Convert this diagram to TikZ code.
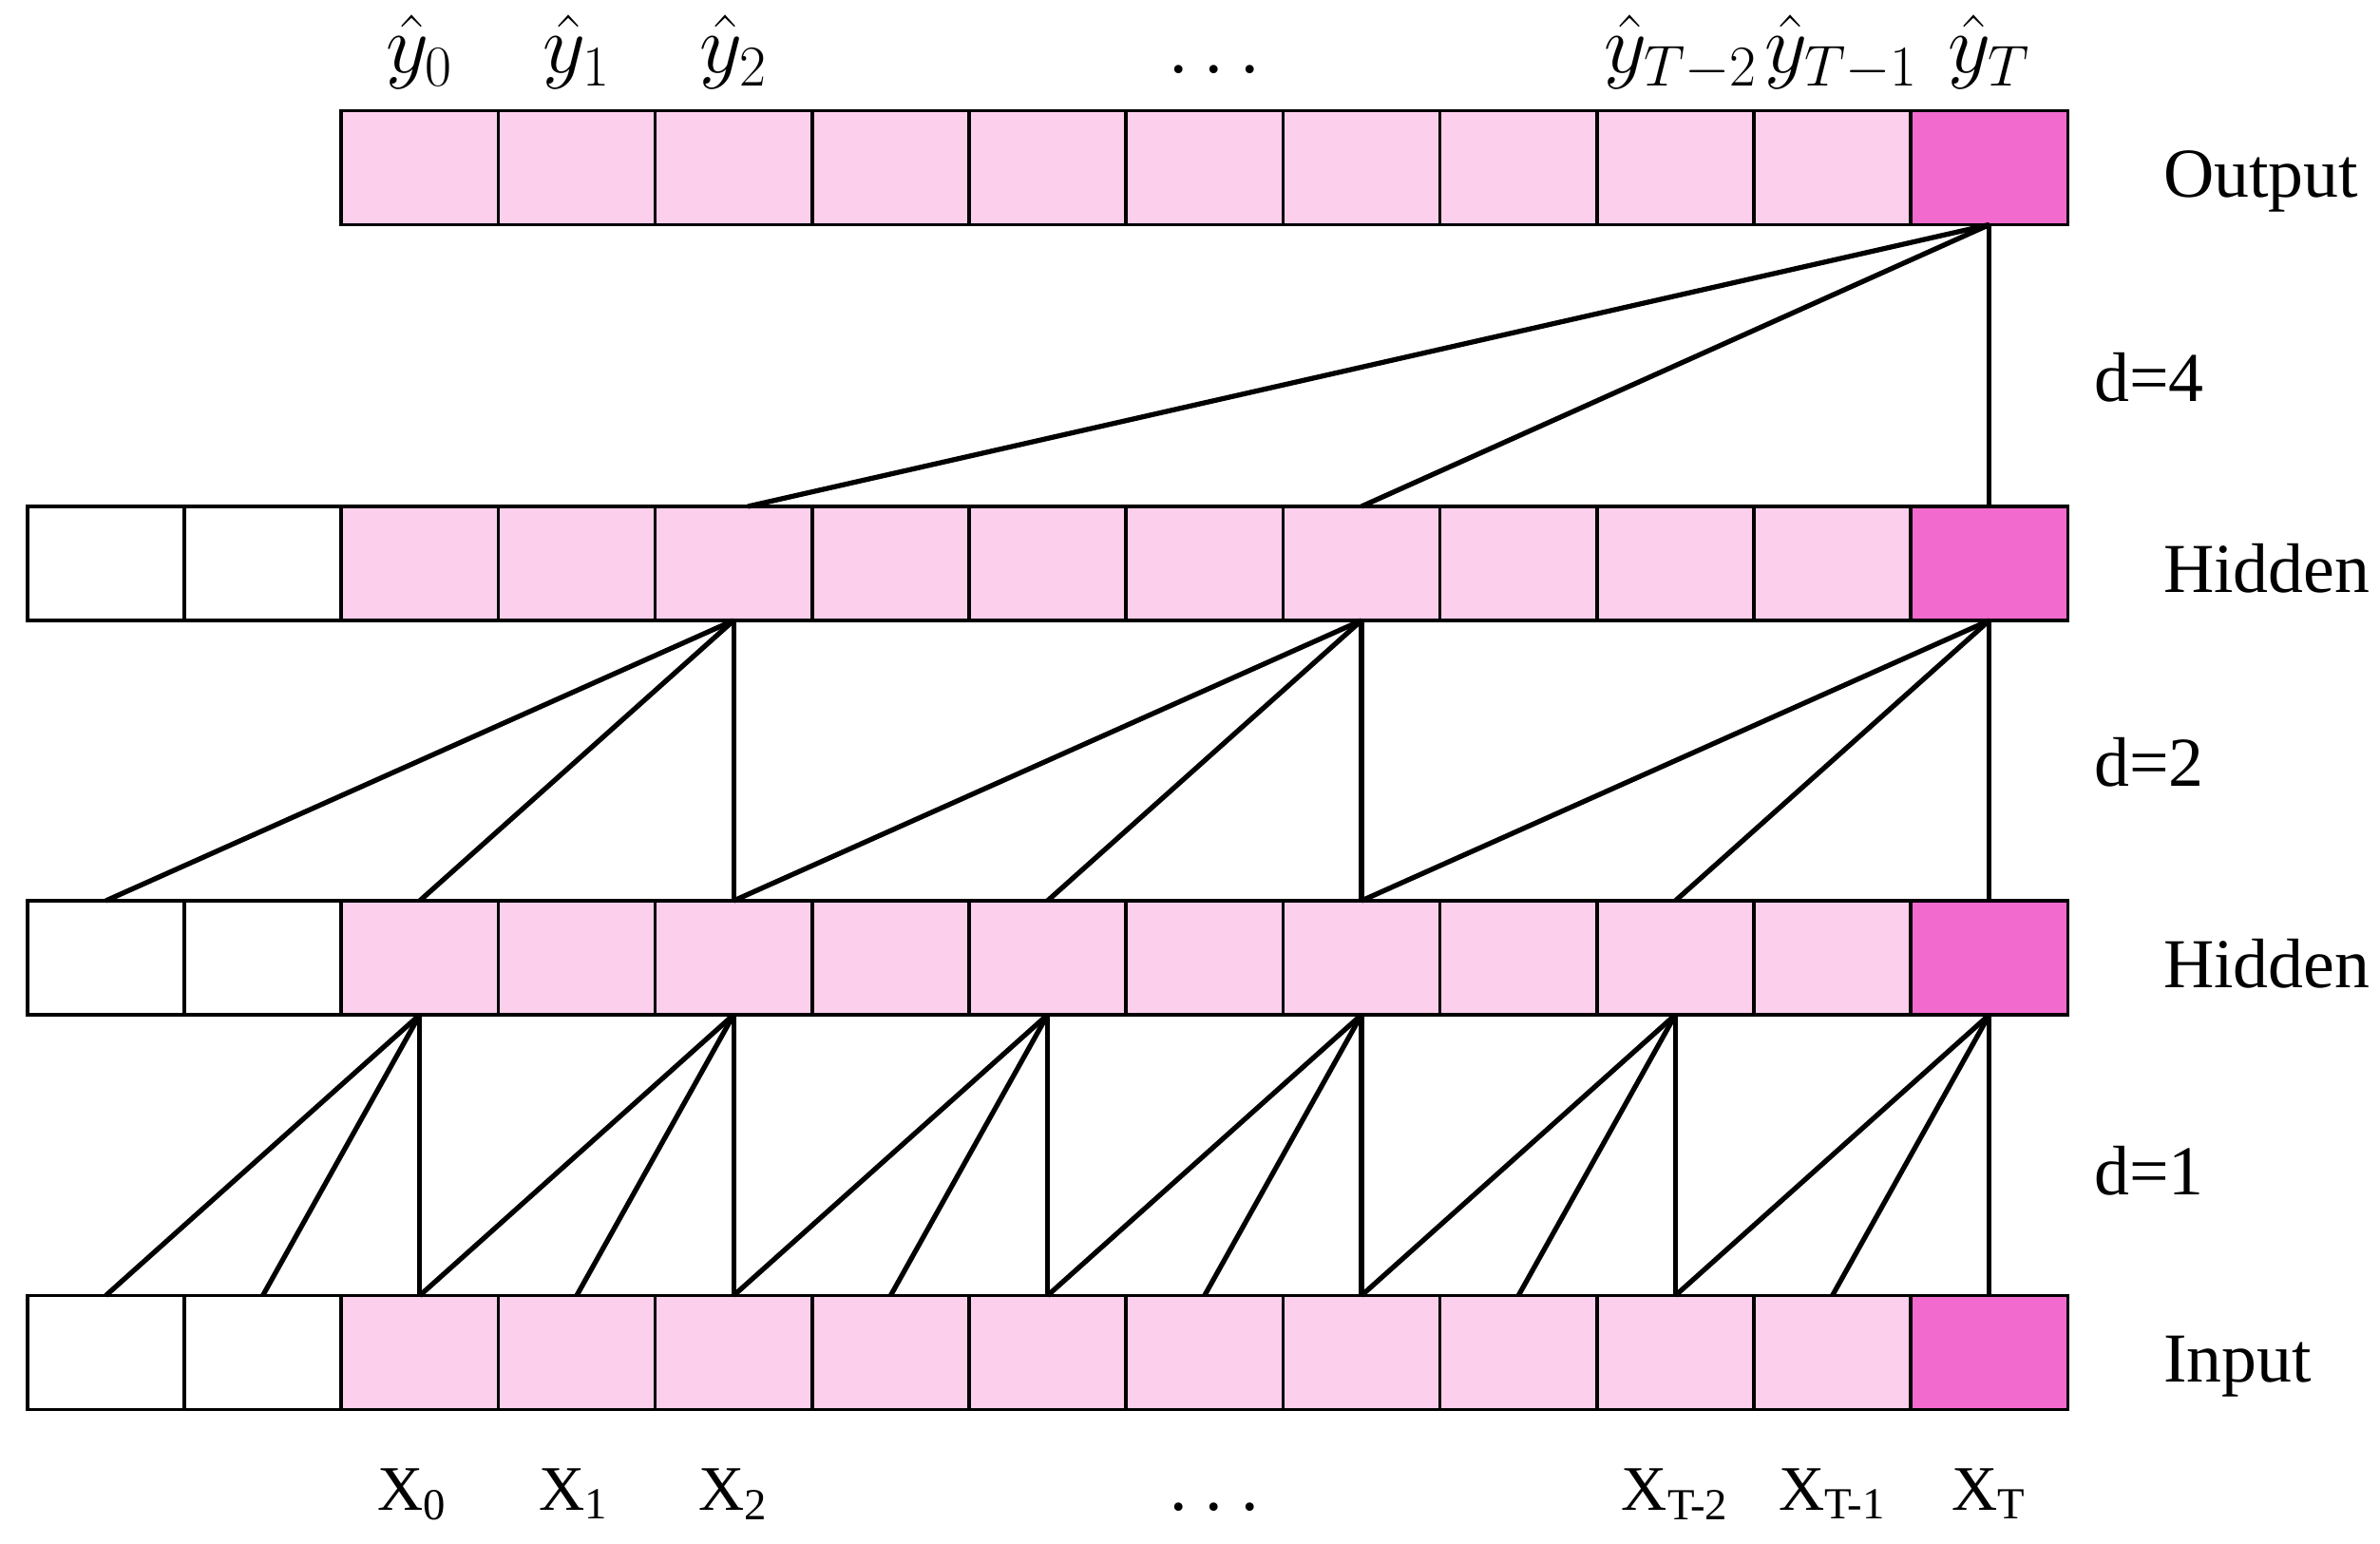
\documentclass[tikz,border=0pt]{standalone}
\usepackage{fontspec}
\setmainfont{Liberation Serif}
\usepackage{xcolor}
\usetikzlibrary{
    positioning
}

\definecolor{cellpink}{RGB}{252,207,236}
\definecolor{cellmag}{RGB}{242,106,206}

\begin{document}
\begin{tikzpicture}[
    cell/.style={
        rectangle,
        draw=black,
        line width=1pt,
        minimum width=1.652cm,
        minimum height=1.2cm,
        inner sep=0pt,
        outer sep=0pt,
        fill=white
    },
    link/.style={
        line width=1.5pt,
        draw=black
    },
    note/.style={
        font=\fontsize{21}{25}\selectfont,
        inner sep=0pt
    },
    rowname/.style={
        note,
        anchor=base west
    },
    head/.style={
        font=\fontsize{23}{27}\selectfont,
        inner sep=0pt,
        anchor=base
    },
    tick/.style={
        font=\fontsize{19}{23}\selectfont,
        inner sep=0pt,
        anchor=base
    }
]
\useasboundingbox (0,0) rectangle (25.05,16.24);

% =========================================================
% Rows of cells: input, two hidden layers, output
% =========================================================
\foreach \i in {0,1} {
    \node[cell] (in\i) at ({1.114+1.652*\i},2.005) {};
    \node[cell] (lo\i) at ({1.114+1.652*\i},6.16) {};
    \node[cell] (up\i) at ({1.114+1.652*\i},10.31) {};
}
\foreach \i in {2,...,11} {
    \node[cell, fill=cellpink] (in\i) at ({1.114+1.652*\i},2.005) {};
    \node[cell, fill=cellpink] (lo\i) at ({1.114+1.652*\i},6.16) {};
    \node[cell, fill=cellpink] (up\i) at ({1.114+1.652*\i},10.31) {};
    \node[cell, fill=cellpink] (out\i) at ({1.114+1.652*\i},14.475) {};
}
\node[cell, fill=cellmag] (in12) at ({1.114+1.652*12},2.005) {};
\node[cell, fill=cellmag] (lo12) at ({1.114+1.652*12},6.16) {};
\node[cell, fill=cellmag] (up12) at ({1.114+1.652*12},10.31) {};
\node[cell, fill=cellmag] (out12) at ({1.114+1.652*12},14.475) {};

% =========================================================
% Layer names and dilations
% =========================================================
\node[rowname] (outname) at ([xshift=1cm, yshift=-0.31cm]out12.east) {Output};
\node[rowname] (upname) at ([xshift=1cm, yshift=-0.31cm]up12.east) {Hidden};
\node[rowname] (loname) at ([xshift=1cm, yshift=-0.31cm]lo12.east) {Hidden};
\node[rowname] (inname) at ([xshift=1cm, yshift=-0.31cm]in12.east) {Input};

\node[note] (dfour) at (22.62,12.27) {d=4};
\node[note] (dtwo) at (22.62,8.22) {d=2};
\node[note] (done) at (22.62,3.92) {d=1};

% =========================================================
% Outputs (top) and inputs (bottom)
% =========================================================
\node[head] (yzero) at (out2|-0,15.47) {$\hat{y}_0$};
\node[head] (yone) at (out3|-0,15.47) {$\hat{y}_1$};
\node[head] (ytwo) at (out4|-0,15.47) {$\hat{y}_2$};
\node[note, anchor=base] (ydots) at (12.78,15.47) {.\hspace{0.19cm}.\hspace{0.19cm}.};
\node[head] (ytm2) at ([xshift=0.06cm]out10|-0,15.47) {$\hat{y}_{T-2}$};
\node[head] (ytm1) at ([xshift=0.1cm]out11|-0,15.47) {$\hat{y}_{T-1}$};
\node[head] (yt) at (out12|-0,15.47) {$\hat{y}_T$};

\node[tick] (xzero) at ([xshift=-0.08cm]in2|-0,0.35) {X\textsubscript{0}};
\node[tick] (xone) at ([xshift=-0.03cm]in3|-0,0.35) {X\textsubscript{1}};
\node[tick] (xtwo) at (in4|-0,0.35) {X\textsubscript{2}};
\node[note, anchor=base] (xdots) at (12.78,0.35) {.\hspace{0.19cm}.\hspace{0.19cm}.};
\node[tick] (xtm2) at (in10|-0,0.35) {X\textsubscript{T-2}};
\node[tick] (xtm1) at (in11|-0,0.35) {X\textsubscript{T-1}};
\node[tick] (xt) at (in12|-0,0.35) {X\textsubscript{T}};

% =========================================================
% Dilated connections
% =========================================================
% d=1: input -> lower hidden
\foreach \j in {2,4,...,12} {
    \pgfmathtruncatemacro{\ja}{\j-1}
    \pgfmathtruncatemacro{\jb}{\j-2}
    \draw[link] (lo\j.south) -- (in\j.north);
    \draw[link] (lo\j.south) -- (in\ja.north);
    \draw[link] (lo\j.south) -- (in\jb.north);
}

% d=2: lower hidden -> upper hidden
\foreach \j in {4,8,12} {
    \pgfmathtruncatemacro{\ja}{\j-2}
    \pgfmathtruncatemacro{\jb}{\j-4}
    \draw[link] (up\j.south) -- (lo\j.north);
    \draw[link] (up\j.south) -- (lo\ja.north);
    \draw[link] (up\j.south) -- (lo\jb.north);
}

% d=4: upper hidden -> output
\draw[link] (out12.south) -- (up12.north);
\draw[link] (out12.south) -- (up8.north);
\draw[link] (out12.south) -- ([xshift=0.15cm]up4.north);

\end{tikzpicture}
\end{document}
